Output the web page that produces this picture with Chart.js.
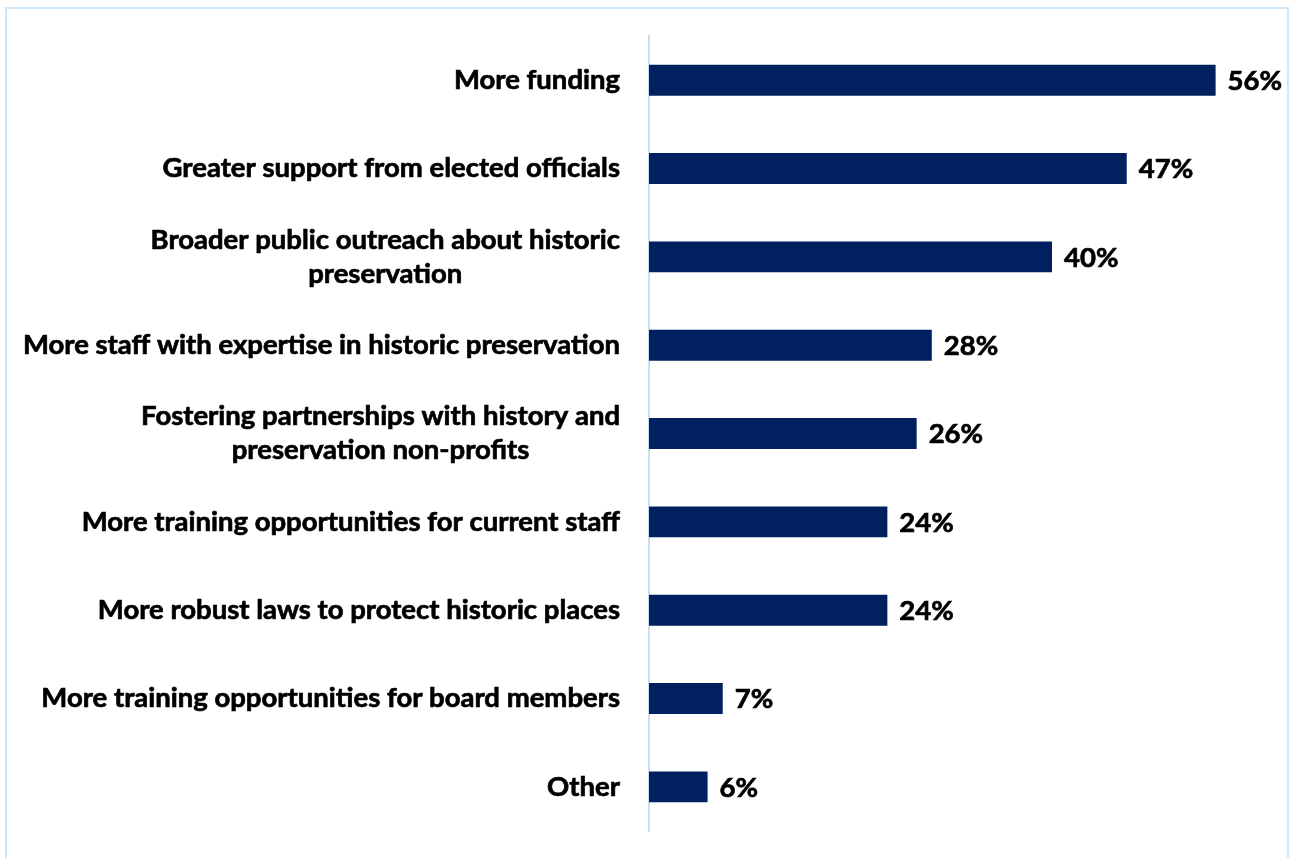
<!DOCTYPE html>
<html>
<head>
<meta charset="utf-8">
<title>What would help</title>
<script src="https://cdn.jsdelivr.net/npm/chart.js@4.4.1/dist/chart.umd.min.js"></script>
<style>
  html, body { margin: 0; padding: 0; background: #fff; }
  #wrap { position: relative; width: 1291px; height: 858px; overflow: hidden; }
  #frame {
    position: absolute; left: 5px; top: 7px; width: 1284px; height: 900px;
    border: 2px solid #cfe5f8; box-sizing: border-box;
  }
  canvas { position: absolute; left: 0; top: 0; }
</style>
</head>
<body>
<div id="wrap">
  <div id="frame"></div>
  <canvas id="chart" width="1291" height="858"></canvas>
</div>
<script>
/* bar chart: what would help */

const categories = [
  ['More funding'],
  ['Greater support from elected officials'],
  ['Broader public outreach about historic', 'preservation'],
  ['More staff with expertise in historic preservation'],
  ['Fostering partnerships with history and', 'preservation non-profits'],
  ['More training opportunities for current staff'],
  ['More robust laws to protect historic places'],
  ['More training opportunities for board members'],
  ['Other'],
];
const values      = [56.1, 47.3, 39.9, 28.0, 26.5, 23.6, 23.6, 7.3, 5.8];
const valueLabels = ['56%', '47%', '40%', '28%', '26%', '24%', '24%', '7%', '6%'];

const BAR_COLOR  = '#002060';
const AXIS_COLOR = '#c6dff5';
const FONT       = 'bold 27.5px Lato, "Open Sans", sans-serif';
const LINE_H     = 34;

function boldText(ctx, txt, x, y) {
  ctx.strokeText(txt, x, y);
  ctx.fillText(txt, x, y);
}

/* category labels: block right aligned, lines centred within it */
const catLabels = {
  id: 'catLabels',
  afterDraw(chart) {
    const { ctx } = chart;
    const yScale = chart.scales.y;
    const right  = yScale.right - 29;
    ctx.save();
    ctx.font = FONT;
    ctx.fillStyle = '#000';
    ctx.strokeStyle = '#000';
    ctx.lineWidth = 0.7;
    ctx.textBaseline = 'middle';
    ctx.textAlign = 'center';
    categories.forEach((lines, i) => {
      const cy = yScale.getPixelForValue(i);
      const w  = Math.max(...lines.map(l => ctx.measureText(l).width));
      const cx = right - w / 2;
      const y0 = cy - (lines.length - 1) * LINE_H / 2;
      lines.forEach((l, k) => boldText(ctx, l, cx, y0 + k * LINE_H));
    });
    ctx.restore();
  },
};

/* value labels at bar ends */
const valLabels = {
  id: 'valLabels',
  afterDatasetsDraw(chart) {
    const { ctx } = chart;
    const meta = chart.getDatasetMeta(0);
    ctx.save();
    ctx.font = FONT;
    ctx.fillStyle = '#000';
    ctx.strokeStyle = '#000';
    ctx.lineWidth = 0.7;
    ctx.textBaseline = 'middle';
    ctx.textAlign = 'left';
    meta.data.forEach((bar, i) => {
      boldText(ctx, valueLabels[i], bar.x + 12, bar.y + 1);
    });
    ctx.restore();
  },
};

new Chart(document.getElementById('chart').getContext('2d'), {
  type: 'bar',
  data: {
    labels: categories.map(c => c.join(' ')),
    datasets: [{
      data: values,
      backgroundColor: BAR_COLOR,
      borderWidth: 0,
      categoryPercentage: 1,
      barPercentage: 0.35,
    }],
  },
  options: {
    indexAxis: 'y',
    responsive: false,
    animation: false,
    events: [],
    layout: { padding: { top: 36, bottom: 27, left: 0, right: 36 } },
    plugins: { legend: { display: false }, tooltip: { enabled: false } },
    scales: {
      x: { display: false, min: 0, max: 60 },
      y: {
        afterFit: s => { s.width = 649; },
        ticks: { display: false },
        grid:  { display: true, drawOnChartArea: false, drawTicks: false, color: 'transparent' },
        border: { display: true, color: AXIS_COLOR, width: 2 },
      },
    },
  },
  plugins: [catLabels, valLabels],
});
</script>
</body>
</html>
